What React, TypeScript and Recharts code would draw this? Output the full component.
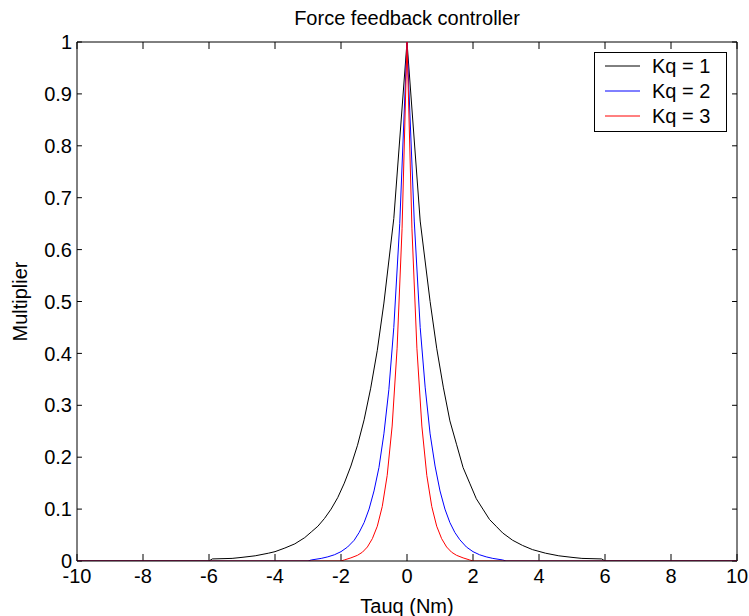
import React from 'react';
import { LineChart, Line, XAxis, YAxis, ReferenceLine, Legend } from 'recharts';

// Kq = 1
const tauK1 = [-10, -6.0, -5.9, -5.3, -5.0, -4.6, -4.2, -4.0, -3.7, -3.4, -3.1, -2.9, -2.7, -2.5, -2.3, -2.1, -1.9, -1.7, -1.5, -1.3, -1.1, -0.9, -0.7, -0.4, 0,
  0.4, 0.7, 0.9, 1.1, 1.3, 1.5, 1.7, 1.9, 2.1, 2.3, 2.5, 2.7, 2.9, 3.2, 3.5, 3.8, 4.2, 4.6, 5.0, 5.3, 5.9, 6.0, 10];
const multK1 = [0, 0, 0.004, 0.005, 0.007, 0.010, 0.015, 0.018, 0.025, 0.033, 0.045, 0.056, 0.067, 0.082, 0.100, 0.122, 0.150, 0.183, 0.223, 0.272, 0.333, 0.406, 0.497, 0.660, 1,
  0.655, 0.500, 0.410, 0.335, 0.270, 0.225, 0.180, 0.150, 0.120, 0.100, 0.080, 0.067, 0.054, 0.040, 0.030, 0.022, 0.015, 0.010, 0.007, 0.005, 0.004, 0, 0];

// Kq = 2
const tauK2 = [-10, -3.0, -2.9, -2.6, -2.4, -2.2, -2.0, -1.8, -1.6, -1.45, -1.3, -1.15, -1.0, -0.85, -0.7, -0.55, -0.4, -0.22, 0,
  0.22, 0.4, 0.55, 0.7, 0.85, 1.0, 1.15, 1.3, 1.45, 1.6, 1.8, 2.0, 2.2, 2.4, 2.6, 2.9, 3.0, 10];
const multK2 = [0, 0, 0.002, 0.005, 0.008, 0.012, 0.018, 0.027, 0.040, 0.055, 0.074, 0.100, 0.135, 0.180, 0.245, 0.330, 0.450, 0.650, 1,
  0.655, 0.450, 0.335, 0.245, 0.183, 0.135, 0.100, 0.074, 0.055, 0.041, 0.027, 0.018, 0.012, 0.008, 0.005, 0.002, 0, 0];

// Kq = 3
const tauK3 = [-10, -2.0, -1.9, -1.7, -1.5, -1.35, -1.2, -1.05, -0.9, -0.75, -0.6, -0.45, -0.3, -0.15, 0,
  0.15, 0.3, 0.45, 0.6, 0.75, 0.9, 1.05, 1.2, 1.35, 1.5, 1.7, 1.9, 2.0, 10];
const multK3 = [0, 0, 0.002, 0.006, 0.011, 0.017, 0.027, 0.043, 0.067, 0.105, 0.165, 0.260, 0.410, 0.640, 1,
  0.640, 0.410, 0.260, 0.165, 0.105, 0.067, 0.043, 0.027, 0.017, 0.011, 0.006, 0.002, 0, 0];

const xTicks = [-10, -8, -6, -4, -2, 0, 2, 4, 6, 8, 10];
const yTicks = [0, 0.1, 0.2, 0.3, 0.4, 0.5, 0.6, 0.7, 0.8, 0.9, 1];

const series = [
  { name: 'Kq = 1', color: '#000000', tau: tauK1, mult: multK1 },
  { name: 'Kq = 2', color: '#0000ff', tau: tauK2, mult: multK2 },
  { name: 'Kq = 3', color: '#ff0000', tau: tauK3, mult: multK3 },
];

const FONT = '"Liberation Sans", Arial, Helvetica, sans-serif';
const FS = 20;
const tickStyle = { fill: '#000', fontSize: FS, fontFamily: FONT };

function LegendBox() {
  return (
    <div style={{ width: 131, height: 78, border: '1px solid #000', background: '#fff' }}>
      <svg width={131} height={78}>
        {series.map((s, i) => (
          <g key={s.name}>
            <line x1={10} x2={45} y1={13 + i * 25} y2={13 + i * 25} stroke={s.color} strokeWidth={1} />
            <text x={57} y={13 + i * 25} dominantBaseline="central" fontSize={FS} fontFamily={FONT} fill="#000">{s.name}</text>
          </g>
        ))}
      </svg>
    </div>
  );
}

export default function App() {
  return (
    <div style={{ position: 'relative', width: 749, height: 616, background: '#fff', fontFamily: FONT }}>
      <style>{'body { margin: 0; }'}</style>
      <div style={{ position: 'absolute', left: 0, top: 8, width: 814, textAlign: 'center', fontSize: FS, lineHeight: '20px', color: '#000' }}>
        Force feedback controller
      </div>
      <LineChart width={749} height={616} margin={{ top: 42, right: 12, left: 0, bottom: 0 }}>
        <XAxis type="number" dataKey="x" domain={[-10, 10]} ticks={xTicks} allowDataOverflow
          tickLine={false} tickSize={0} tickMargin={8} height={55}
          axisLine={{ stroke: '#000' }} tick={tickStyle}
          label={{ value: 'Tauq (Nm)', position: 'insideBottom', offset: 3, fill: '#000', fontSize: FS, fontFamily: FONT }} />
        <YAxis type="number" domain={[0, 1]} ticks={yTicks} allowDataOverflow
          tickLine={false} tickSize={0} tickMargin={5} width={77}
          axisLine={{ stroke: '#000' }} tick={tickStyle}
          tickFormatter={(v: number) => String(+v.toFixed(1))}
          label={(props: any) => {
            const vb = props.viewBox || { x: 0, y: 42, width: 77, height: 519 };
            const cx = vb.x + 20;
            const cy = vb.y + vb.height / 2;
            return (
              <text x={cx} y={cy} transform={`rotate(-90 ${cx} ${cy})`} textAnchor="middle"
                dominantBaseline="central" fontSize={FS} fontFamily={FONT} fill="#000">Multiplier</text>
            );
          }} />
        <ReferenceLine y={1} stroke="#000" ifOverflow="visible" />
        <ReferenceLine x={10} stroke="#000" ifOverflow="visible" />
        {xTicks.map((t) => (
          <ReferenceLine key={'b' + t} segment={[{ x: t, y: 0 }, { x: t, y: 0.0135 }]} stroke="#000" ifOverflow="visible" />
        ))}
        {xTicks.map((t) => (
          <ReferenceLine key={'t' + t} segment={[{ x: t, y: 1 }, { x: t, y: 1 - 0.0135 }]} stroke="#000" ifOverflow="visible" />
        ))}
        {yTicks.map((t) => (
          <ReferenceLine key={'l' + t} segment={[{ x: -10, y: t }, { x: -9.85, y: t }]} stroke="#000" ifOverflow="visible" />
        ))}
        {yTicks.map((t) => (
          <ReferenceLine key={'r' + t} segment={[{ x: 10, y: t }, { x: 9.85, y: t }]} stroke="#000" ifOverflow="visible" />
        ))}
        {series.map((s) => (
          <Line key={s.name} name={s.name} type="linear" dataKey="y"
            data={s.tau.map((x, i) => ({ x, y: s.mult[i] }))}
            stroke={s.color} strokeWidth={1} dot={false} activeDot={false} isAnimationActive={false} />
        ))}
        <Legend layout="horizontal" align="center" verticalAlign="middle"
          wrapperStyle={{ left: 594, top: 52, width: 133, height: 80 }}
          content={() => <LegendBox />} />
      </LineChart>
    </div>
  );
}
